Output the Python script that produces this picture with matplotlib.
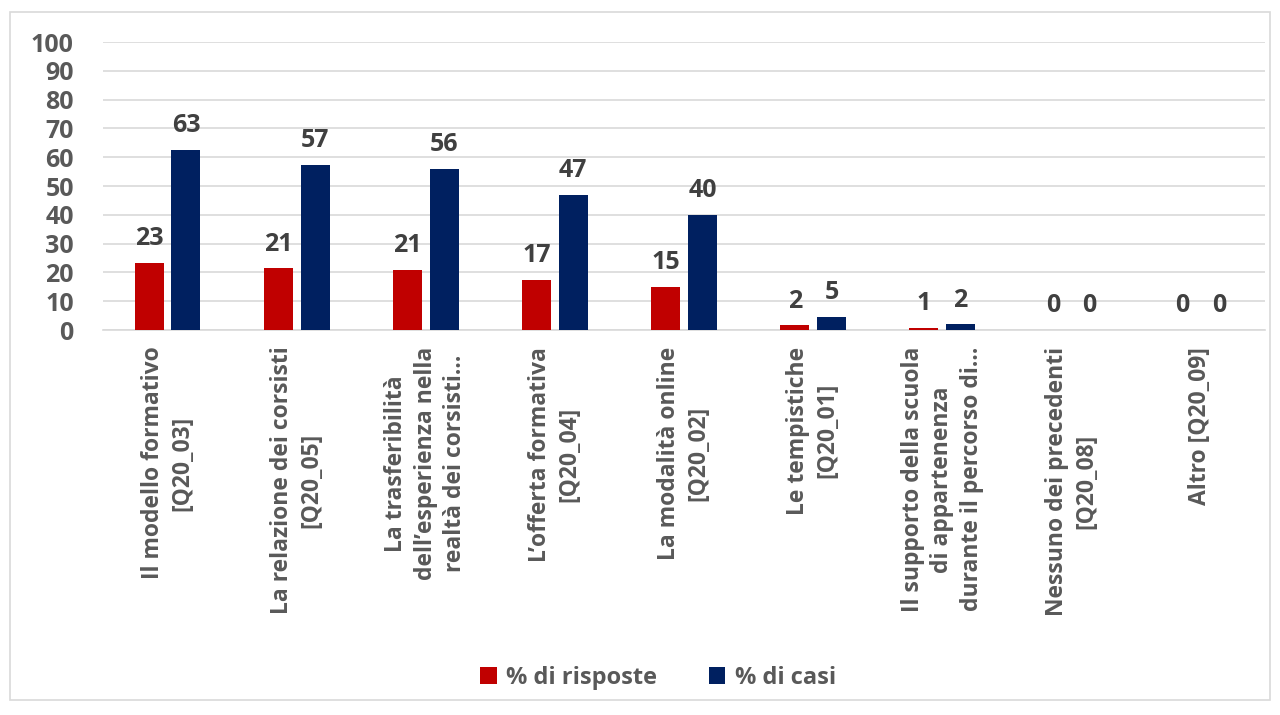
import matplotlib
matplotlib.use("Agg")
import matplotlib.pyplot as plt
import numpy as np
from matplotlib.patches import Rectangle

categories = [
    "Il modello formativo\n[Q20_03]",
    "La relazione dei corsisti\n[Q20_05]",
    "La trasferibilità\ndell\u2019esperienza nella\nrealtà dei corsisti\u2026",
    "L\u2019offerta formativa\n[Q20_04]",
    "La modalità online\n[Q20_02]",
    "Le tempistiche\n[Q20_01]",
    "Il supporto della scuola\ndi appartenenza\ndurante il percorso di\u2026",
    "Nessuno dei precedenti\n[Q20_08]",
    "Altro [Q20_09]",
]
risposte = [23.3, 21.4, 21.0, 17.5, 15.0, 1.7, 0.8, 0.0, 0.0]
casi = [62.6, 57.4, 56.0, 47.0, 40.0, 4.6, 2.0, 0.0, 0.0]
labels_risposte = ["23", "21", "21", "17", "15", "2", "1", "0", "0"]
labels_casi = ["63", "57", "56", "47", "40", "5", "2", "0", "0"]
yticks = [0, 10, 20, 30, 40, 50, 60, 70, 80, 90, 100]

plt.rcParams['font.family'] = ['Open Sans', 'DejaVu Sans']
plt.rcParams['font.weight'] = 'bold'

fig = plt.figure(figsize=(12.8, 7.15), dpi=100)
fig.patches.append(Rectangle((10/1280, 1-700/715), 1260/1280, 688/715,
                             transform=fig.transFigure, fill=False,
                             edgecolor='#d9d9d9', linewidth=1.2))
ax = fig.add_axes([103/1280, 1-330/715, 1162/1280, 288/715])

red = '#c00000'
blue = '#002060'
x = np.arange(len(categories))
w = 0.225
gap = 0.03
ax.bar(x - w/2 - gap, risposte, w, color=red, label='% di risposte', zorder=3)
ax.bar(x + w/2 + gap, casi, w, color=blue, label='% di casi', zorder=3)

for xi, v, l in zip(x, risposte, labels_risposte):
    ax.text(xi - w/2 - gap, v + 4.0, l, ha='center', va='bottom', fontsize=18,
            fontweight='bold', color='#404040')
for xi, v, l in zip(x, casi, labels_casi):
    ax.text(xi + w/2 + gap, v + 4.0, l, ha='center', va='bottom', fontsize=18,
            fontweight='bold', color='#404040')

ax.set_xlim(-0.5, len(categories) - 0.5)
ax.set_ylim(0, 100)
ax.set_yticks(yticks)
ax.set_yticklabels([str(t) for t in yticks], fontsize=18, fontweight='bold', color='#595959')
ax.yaxis.grid(True, color='#d9d9d9', linewidth=1.2, zorder=0)
ax.set_axisbelow(True)
for s in ['top', 'right', 'left']:
    ax.spines[s].set_visible(False)
ax.spines['bottom'].set_color('#d9d9d9')
ax.spines['bottom'].set_linewidth(1.2)
ax.tick_params(axis='y', length=0, pad=21)
ax.tick_params(axis='x', length=0, pad=12)
ax.set_xticks(x)
ax.set_xticklabels(categories, rotation=90, fontsize=16.5, fontweight='bold',
                   color='#595959', ha='center', va='top', multialignment='center',
                   linespacing=1.3)

leg = fig.legend(loc='center', bbox_to_anchor=(658/1280, 1-678/715), ncol=2, frameon=False,
                 fontsize=17, handlelength=0.7, handleheight=0.7, columnspacing=2.2,
                 handletextpad=0.4)
for t in leg.get_texts():
    t.set_color('#595959')
    t.set_fontweight('bold')

fig.savefig('out.png', dpi=100)
